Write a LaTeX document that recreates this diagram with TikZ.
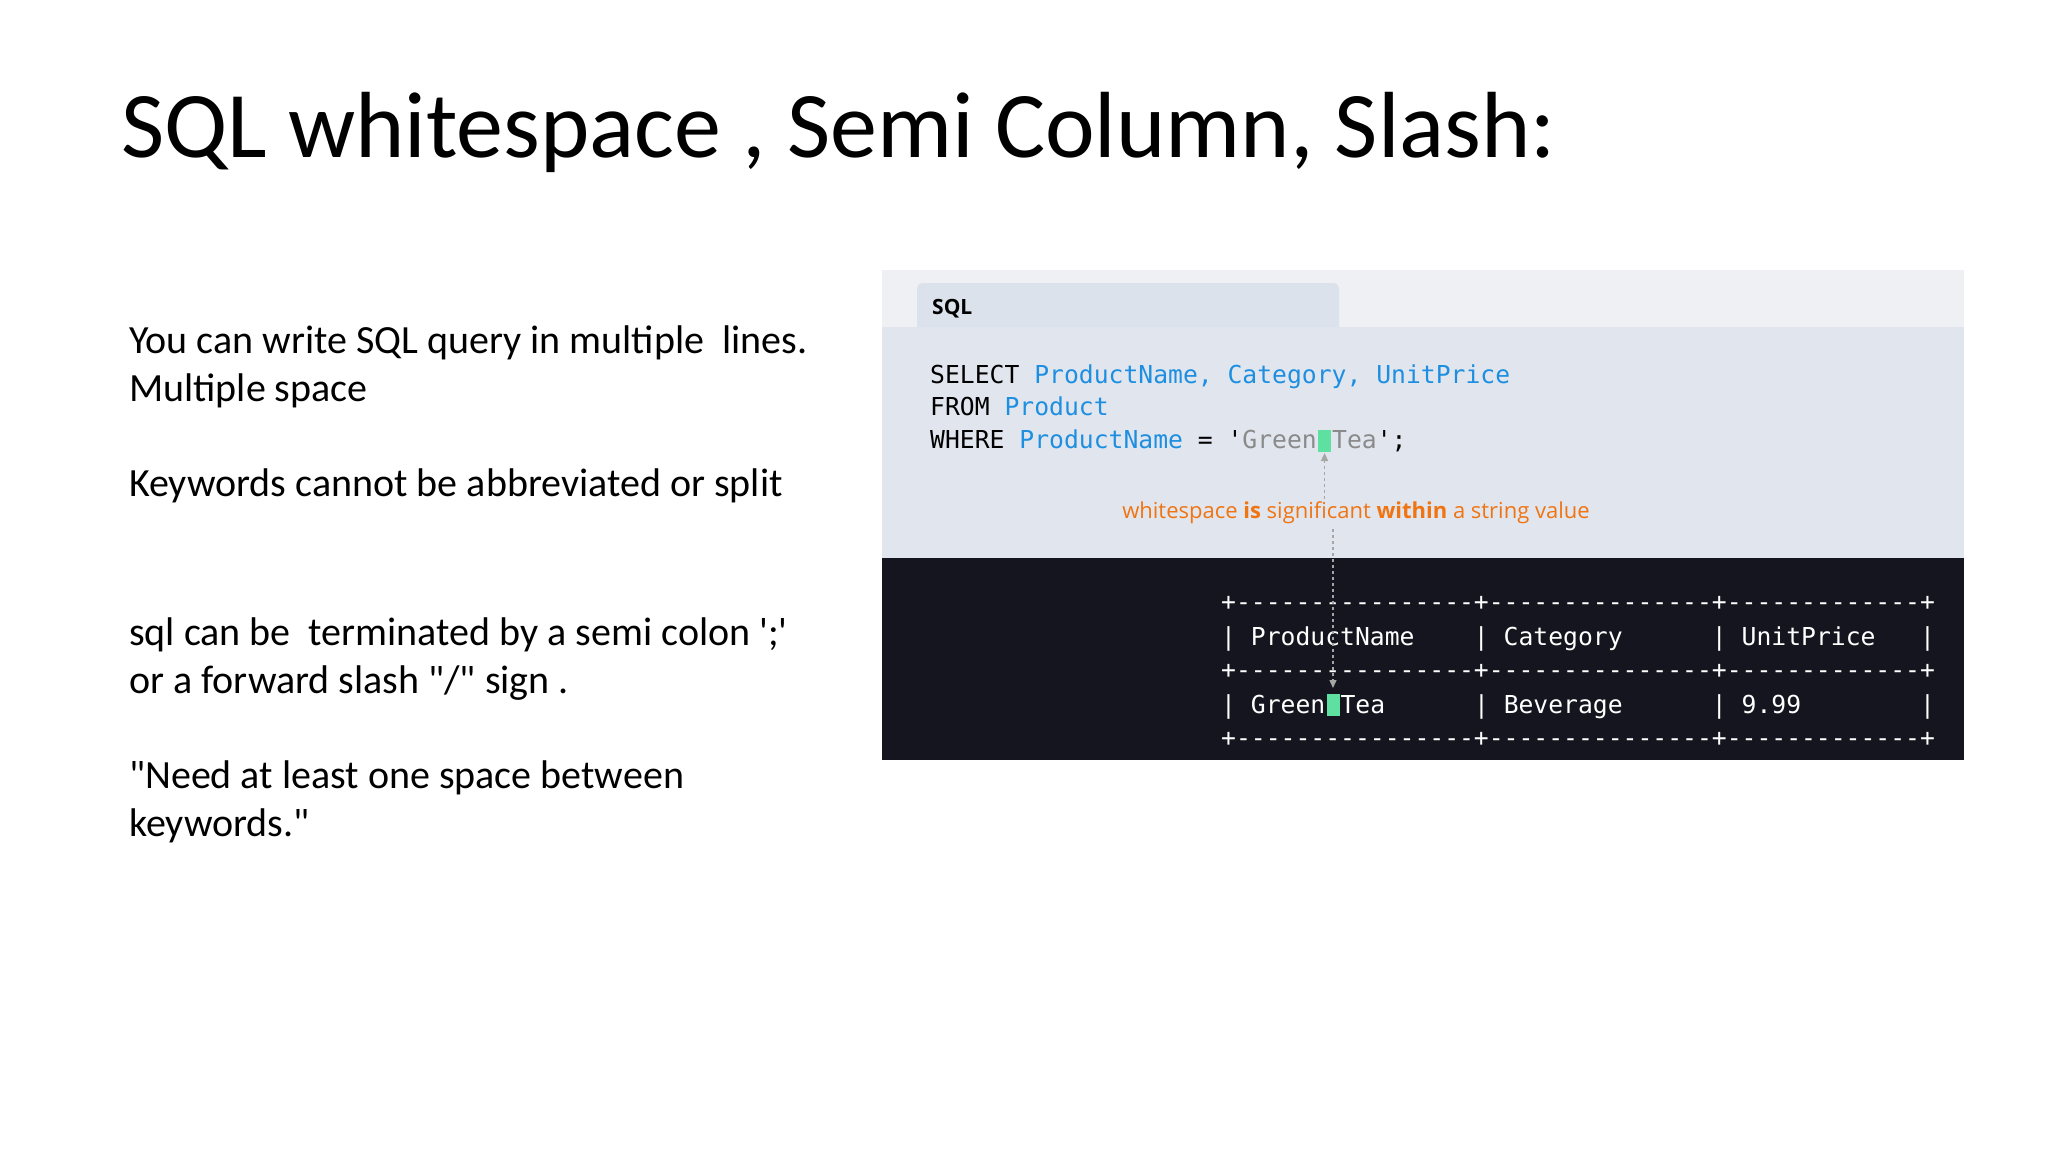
\documentclass[tikz,border=0pt]{standalone}
\usepackage{fontspec}
\setmainfont{Carlito}[Ligatures=TeXOff]
\newfontfamily\monof{DejaVu Sans Mono}[Ligatures=TeXOff]
\newfontfamily\notef{Open Sans}
\usetikzlibrary{arrows.meta,calc}
\definecolor{kwblue}{HTML}{1E8FE0}
\definecolor{strgray}{HTML}{8A8A8A}
\definecolor{hlgreen}{HTML}{5EE0A0}
\definecolor{darkbg}{HTML}{15151F}
\definecolor{lightbg}{HTML}{E1E6EE}
\definecolor{stripbg}{HTML}{EEF0F4}
\definecolor{tabbg}{HTML}{DCE2EB}
\definecolor{noteor}{HTML}{F07412}
\tikzset{
 body/.style={anchor=base west,inner sep=0,font=\fontsize{40}{48}\selectfont},
 code/.style={anchor=base west,inner sep=0,font=\monof\fontsize{24.7}{30}\selectfont},
 tbl/.style={code,text=white},
 hl/.style={fill=hlgreen,draw=none},
 dasharrow/.style={draw=gray!70,dashed,line width=1.3pt,-{Triangle[length=8pt,width=7pt]}}
}
\begin{document}
\begin{tikzpicture}[x=1pt,y=-1pt]
\useasboundingbox (0,0) rectangle (2048,1152);
\fill[white] (0,0) rectangle (2048,1152);
\node[anchor=base west,inner sep=0,font=\fontsize{94}{112}\selectfont] (title) at (121,157) {SQL whitespace , Semi Column, Slash:};
\node[body] (l1) at (129,353) {You can write SQL query in multiple\ \ lines.};
\node[body] (l2) at (129,401) {Multiple space};
\node[body] (l3) at (129,496) {Keywords cannot be abbreviated or split};
\node[body] (l4) at (129,645) {sql can be\ \ terminated by a semi colon ';'};
\node[body] (l5) at (129,693) {or a forward slash "/" sign .};
\node[body] (l6) at (129,788) {"Need at least one space between};
\node[body] (l7) at (129,836) {keywords."};
% panel
\fill[stripbg] (882,270) rectangle (1964,327);
\fill[lightbg] (882,327) rectangle (1964,558);
\fill[tabbg,rounded corners=6pt] (917,283) rectangle (1339,340);
\fill[lightbg] (917,327) rectangle (1339,340);
\fill[darkbg] (882,558) rectangle (1964,760);
\node[anchor=base west,inner sep=0,font=\notef\bfseries\fontsize{21}{25}\selectfont] (sql) at (932,314) {SQL};
\node[code] (c1) at (930,383) {SELECT \textcolor{kwblue}{ProductName, Category, UnitPrice}};
\node[code] (c2) at (930,415) {FROM \textcolor{kwblue}{Product}};
\node[code] (c3a) at (930,448) {WHERE \textcolor{kwblue}{ProductName} = '\textcolor{strgray}{Green}};
\fill[hl] ($(c3a.base east)+(1,-18)$) rectangle ($(c3a.base east)+(14,4)$);
\coordinate (up) at ($(c3a.base east)+(7.5,5)$);
\node[code] (c3b) at ($(c3a.base east)+(14.9,0)$) {\textcolor{strgray}{Tea}';};
\node[inner sep=0,font=\notef\fontsize{22}{26}\selectfont,text=noteor] (note) at (1356,513) {whitespace \textbf{is} significant \textbf{within} a string value};
% table
\node[tbl] (t1) at (1221,610) {+----------------+---------------+-------------+};
\node[tbl] (t2) at (1221,645) {| ProductName\ \ \ \ | Category\ \ \ \ \ \ | UnitPrice\ \ \ |};
\node[tbl] (t3) at (1221,678) {+----------------+---------------+-------------+};
\node[tbl] (t4a) at (1221,713) {| Green};
\fill[hl] ($(t4a.base east)+(1,-19)$) rectangle ($(t4a.base east)+(14,3)$);
\coordinate (dn) at ($(t4a.base east)+(7.5,-25)$);
\node[tbl] (t4b) at ($(t4a.base east)+(14.9,0)$) {Tea};
\node[tbl] (t4c) at (1221,713) {\phantom{| Green Tea}\ \ \ \ \ \ | Beverage\ \ \ \ \ \ | 9.99\ \ \ \ \ \ \ \ |};
\node[tbl] (t5) at (1221,746) {+----------------+---------------+-------------+};
\draw[dasharrow] (note.north -| up) ++(0,-3) -- (up);
\draw[dasharrow] (note.south -| dn) ++(0,5) -- (dn);
\end{tikzpicture}
\end{document}
